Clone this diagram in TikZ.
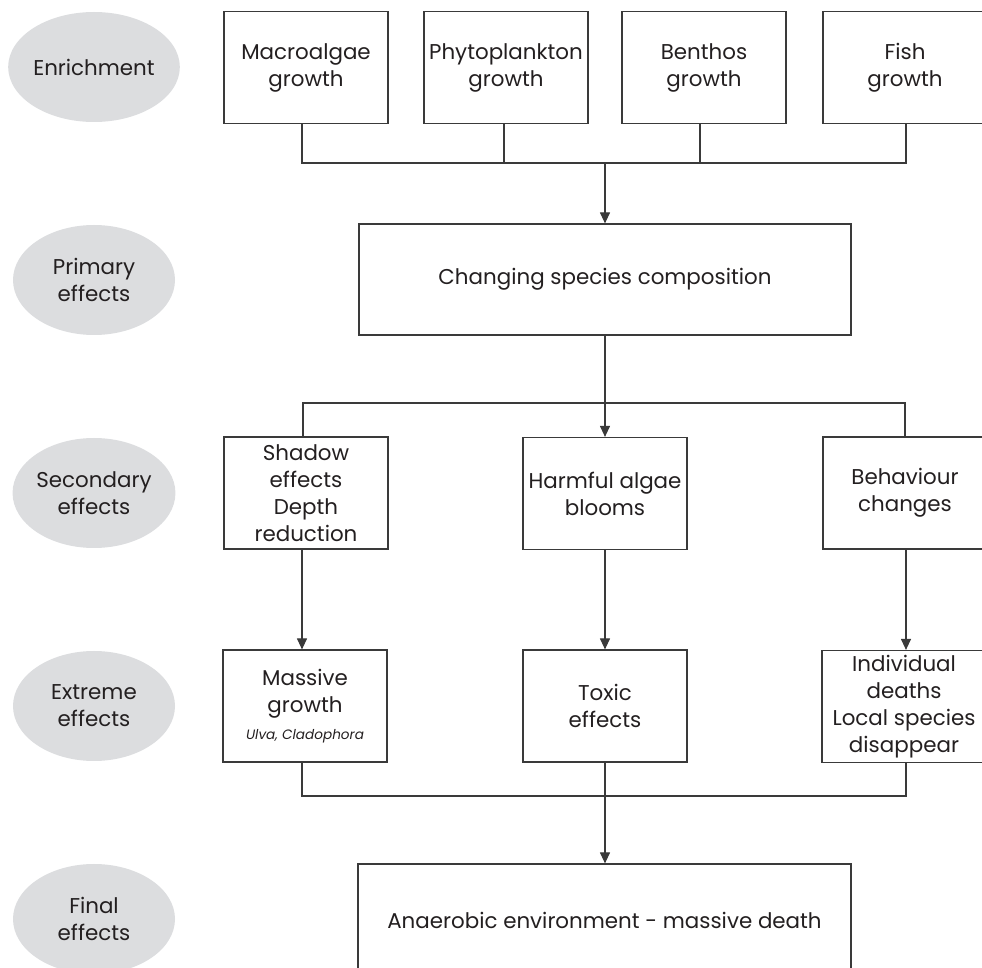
\documentclass[tikz,border=0pt]{standalone}
\usepackage{fontspec}
\setmainfont{Poppins}
\usetikzlibrary{arrows.meta,shapes.geometric}
\definecolor{ln}{HTML}{3A3A3A}
\definecolor{ell}{HTML}{DCDDDF}
\definecolor{tx}{HTML}{231F20}
\begin{document}
\begin{tikzpicture}[x=0.5pt,y=-0.5pt,
  box/.style={draw=ln, line width=0.6pt, minimum width=82pt, minimum height=56pt, inner sep=0pt, align=center, text=tx, font=\fontsize{10.7}{13.5}\selectfont},
  lab/.style={ellipse, fill=ell, minimum width=81pt, minimum height=55pt, inner sep=0pt, align=center, text=tx, font=\fontsize{10.7}{13.5}\selectfont},
  conn/.style={draw=ln, line width=0.6pt},
  arr/.style={conn, -{Triangle[length=5.5pt,width=5pt]}}]
\useasboundingbox (0,0) rectangle (982,968);
% row labels
\node[lab] (l1) at (94,67) {Enrichment};
\node[lab] (l2) at (94,280) {Primary\\effects};
\node[lab] (l3) at (94,493) {Secondary\\effects};
\node[lab] (l4) at (94,706) {Extreme\\effects};
\node[lab] (l5) at (94,919) {Final\\effects};
% boxes
\node[box] (mac) at (306,67.5) {Macroalgae\\growth};
\node[box] (phy) at (506,67.5) {Phytoplankton\\growth};
\node[box] (ben) at (704,67.5) {Benthos\\growth};
\node[box] (fish) at (905,67.5) {Fish\\growth};
\node[box, minimum width=246pt, minimum height=55.5pt] (prim) at (605,279.5) {Changing species composition};
\node[box] (shad) at (306,493) {Shadow\\effects\\Depth\\reduction};
\node[box] (harm) at (605,493.5) {Harmful algae\\blooms};
\node[box] (beh) at (905,493) {Behaviour\\changes};
\node[box] (mass) at (305,706) {Massive\\growth\\{\fontsize{6.8}{9}\selectfont\itshape Ulva, Cladophora}};
\node[box] (tox) at (605,706) {Toxic\\effects};
\node[box] (ind) at (904,706.5) {Individual\\deaths\\Local species\\disappear};
\node[box, minimum width=246.5pt] (fin) at (604.5,920) {Anaerobic environment - massive death};
% connectors
\coordinate (b1) at (605,163);
\coordinate (b2) at (605,403);
\coordinate (b3) at (605,796);
\draw[conn] ([xshift=-2pt]mac.south) |- ([xshift=0.5pt]fish.south |- b1) -- ([xshift=0.5pt]fish.south);
\draw[conn] ([xshift=-1pt]phy.south) -- ([xshift=-1pt]phy.south |- b1);
\draw[conn] ([xshift=-2pt]ben.south) -- ([xshift=-2pt]ben.south |- b1);
\draw[arr] (b1) -- (prim.north);
\draw[conn] (prim.south) -- (b2);
\draw[arr] (b2) -- (harm.north);
\draw[conn] ([xshift=-1.5pt]shad.north) |- (b2) -| (beh.north);
\draw[arr] ([xshift=-2pt]shad.south) -- ([xshift=-2pt]shad.south |- mass.north);
\draw[arr] (harm.south) -- (tox.north);
\draw[arr] ([xshift=0.5pt]beh.south) -- ([xshift=0.5pt]beh.south |- ind.north);
\draw[conn] ([xshift=-1.5pt]mass.south) |- (b3) -| ([xshift=1pt]ind.south);
\draw[conn] (tox.south) -- (b3);
\draw[arr] (b3) -- (b3 |- fin.north);
\end{tikzpicture}
\end{document}
